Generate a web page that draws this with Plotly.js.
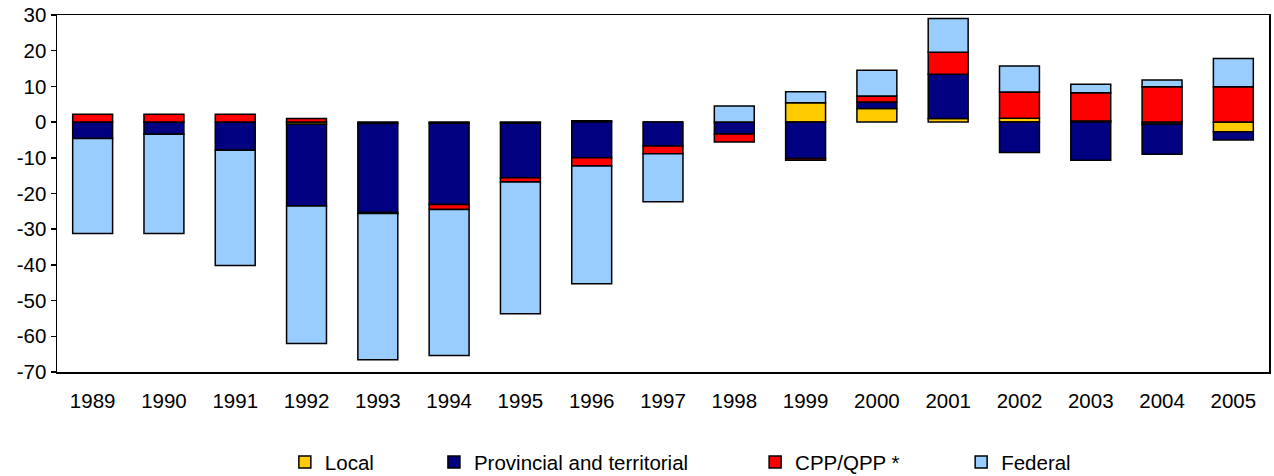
<!DOCTYPE html>
<html>
<head>
<meta charset="utf-8">
<script src="https://cdn.plot.ly/plotly-3.0.1.min.js"></script>
<style>html,body{margin:0;padding:0;background:#fff;}#chart{width:1274px;height:476px;}</style>
</head>
<body>
<div id="chart"></div>
<script>
const years = ['1989','1990','1991','1992','1993','1994','1995','1996','1997','1998','1999','2000','2001','2002','2003','2004','2005'];
const local = [0, 0, 0, -0.6, -0.4, -0.3, -0.3, 0.4, 0, 0, 5.4, 3.8, 1.0, 1.1, 0.3, -0.5, -2.7];
const provincial = [-4.6, -3.4, -7.9, -22.9, -24.9, -22.8, -15.3, -10.0, -6.7, -3.3, -10.2, 1.8, 12.4, -8.5, -10.7, -8.5, -2.3];
const cpp = [2.2, 2.2, 2.2, 1.0, -0.3, -1.4, -1.2, -2.3, -2.2, -2.3, -0.5, 1.7, 6.2, 7.3, 7.9, 9.9, 9.9];
const federal = [-26.6, -27.8, -32.3, -38.5, -41.0, -40.9, -36.9, -33.0, -13.4, 4.5, 3.1, 7.2, 9.4, 7.3, 2.4, 1.9, 7.9];
const seriesNames = ['Local', 'Provincial and territorial', 'CPP/QPP *', 'Federal'];
const yTicks = [-70, -60, -50, -40, -30, -20, -10, 0, 10, 20, 30];

const colors = ['#FFCC00', '#000080', '#FF0000', '#99CCFF'];
const seriesData = [local, provincial, cpp, federal];
const legendIds = ['legend', 'legend2', 'legend3', 'legend4'];
const legendX = [0.188, 0.311, 0.576, 0.746];

const traces = seriesData.map((vals, i) => ({
  type: 'bar', x: years, y: vals, name: seriesNames[i],
  legend: legendIds[i],
  marker: {color: colors[i], line: {color: '#000', width: 1.5}},
  hoverinfo: 'x+y+name'
}));

const fontBase = {family: 'Liberation Sans, Arial, sans-serif', size: 20.5, color: '#000'};
const layout = {
  width: 1274, height: 476,
  margin: {l: 57, r: 5, t: 15, b: 104},
  paper_bgcolor: '#fff', plot_bgcolor: '#fff',
  font: fontBase,
  barmode: 'relative', bargap: 0.44,
  showlegend: true,
  xaxis: {
    type: 'category', categoryarray: years, range: [-0.5, years.length - 0.5],
    showline: true, linecolor: '#000', linewidth: 1.5, mirror: true,
    ticks: '', showgrid: false, zeroline: false, automargin: false,
    ticklabelstandoff: 10, tickfont: fontBase
  },
  xaxis2: {
    overlaying: 'x', anchor: 'free', position: 0.7,
    type: 'linear', range: [-0.5, years.length - 0.5],
    tickmode: 'array', tickvals: years.slice(1).map((_, i) => i + 0.5),
    ticks: 'inside', ticklen: 6, tickwidth: 1.5, tickcolor: '#000',
    showticklabels: false, showgrid: false, zeroline: false,
    showline: true, linecolor: '#000', linewidth: 1.5, layer: 'above traces'
  },
  yaxis: {
    range: [-70, 30], tickmode: 'array', tickvals: yTicks, ticktext: yTicks.map(String),
    ticks: 'outside', ticklen: 5, tickwidth: 1.5, tickcolor: '#000',
    showline: true, linecolor: '#000', linewidth: 1.5, mirror: true, automargin: false,
    showgrid: false, zeroline: false, tickfont: fontBase
  }
};
legendIds.forEach((id, i) => {
  layout[id] = {orientation: 'h', x: legendX[i], xanchor: 'left',
    yref: 'container', y: 0.029, yanchor: 'middle',
    bgcolor: 'rgba(0,0,0,0)', font: fontBase, itemwidth: 30};
});

Plotly.newPlot('chart', traces, layout, {displayModeBar: false, staticPlot: true});
</script>
</body>
</html>
